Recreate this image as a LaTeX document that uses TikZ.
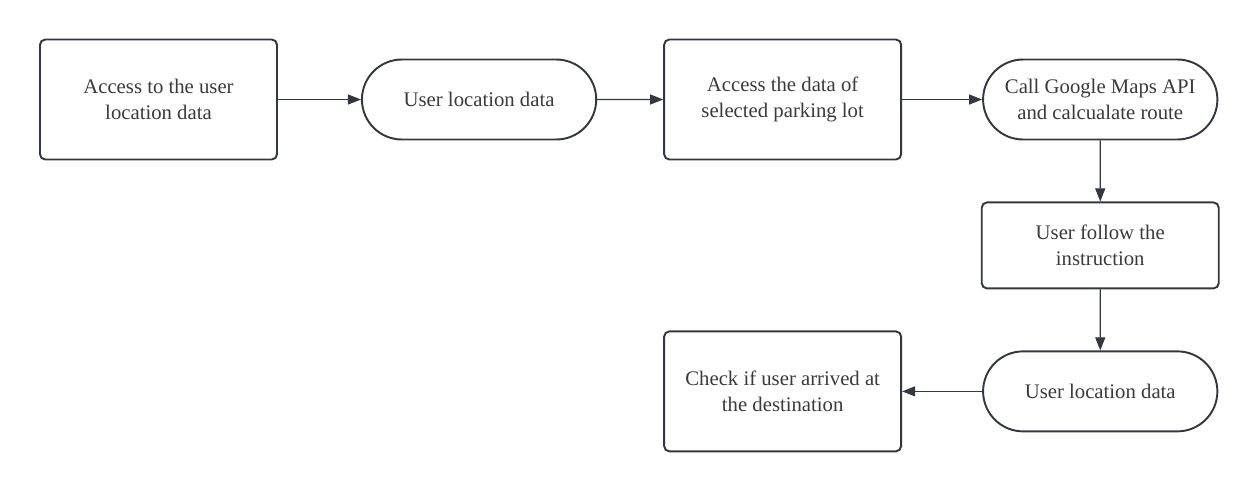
\documentclass[tikz,border=0pt]{standalone}
\usepackage{fontspec}
\setmainfont{Liberation Serif}
\usetikzlibrary{positioning,arrows.meta,shapes.misc}
\definecolor{ink}{HTML}{33373F}
\definecolor{txt}{HTML}{3A3A3A}

\begin{document}
\begin{tikzpicture}[
  font=\fontsize{11.8}{15}\selectfont,
  text=txt,
  node distance=1.6cm,
  b/.style={draw=ink,line width=1.1pt,rounded corners=3pt,align=center,minimum width=4.74cm,minimum height=2.4cm},
  bs/.style={b,minimum height=1.72cm},
  t/.style={draw=ink,line width=1.1pt,rounded rectangle,align=center,minimum width=4.92cm,minimum height=1.6cm},
  a/.style={-{Triangle[length=2.6mm,width=2mm]},draw=ink,line width=0.6pt},
]
  \useasboundingbox (0,0) rectangle (25.14,-9.84);

  \node[b] (acc) at (3.17,-1.99) {Access to the user\\location data};
  \node[t,right=1.66cm of acc]   (loc) {User location data};
  \node[b,right=1.32cm of loc]   (lot) {Access the data of\\selected parking lot};
  \node[t,right=1.6cm of lot]    (api) {Call Google Maps API\\and calcualate route};

  \node[bs,below=1.22cm of api]  (fol) {User follow the\\instruction};
  \node[t,below=1.22cm of fol]   (loc2){User location data};
  \node[b,left=1.6cm of loc2]    (chk) {Check if user arrived at\\the destination};

  \draw[a] (acc)--(loc); \draw[a] (loc)--(lot); \draw[a] (lot)--(api);
  \draw[a] (api)--(fol); \draw[a] (fol)--(loc2);
  \draw[a] (loc2)--(chk);
\end{tikzpicture}
\end{document}
